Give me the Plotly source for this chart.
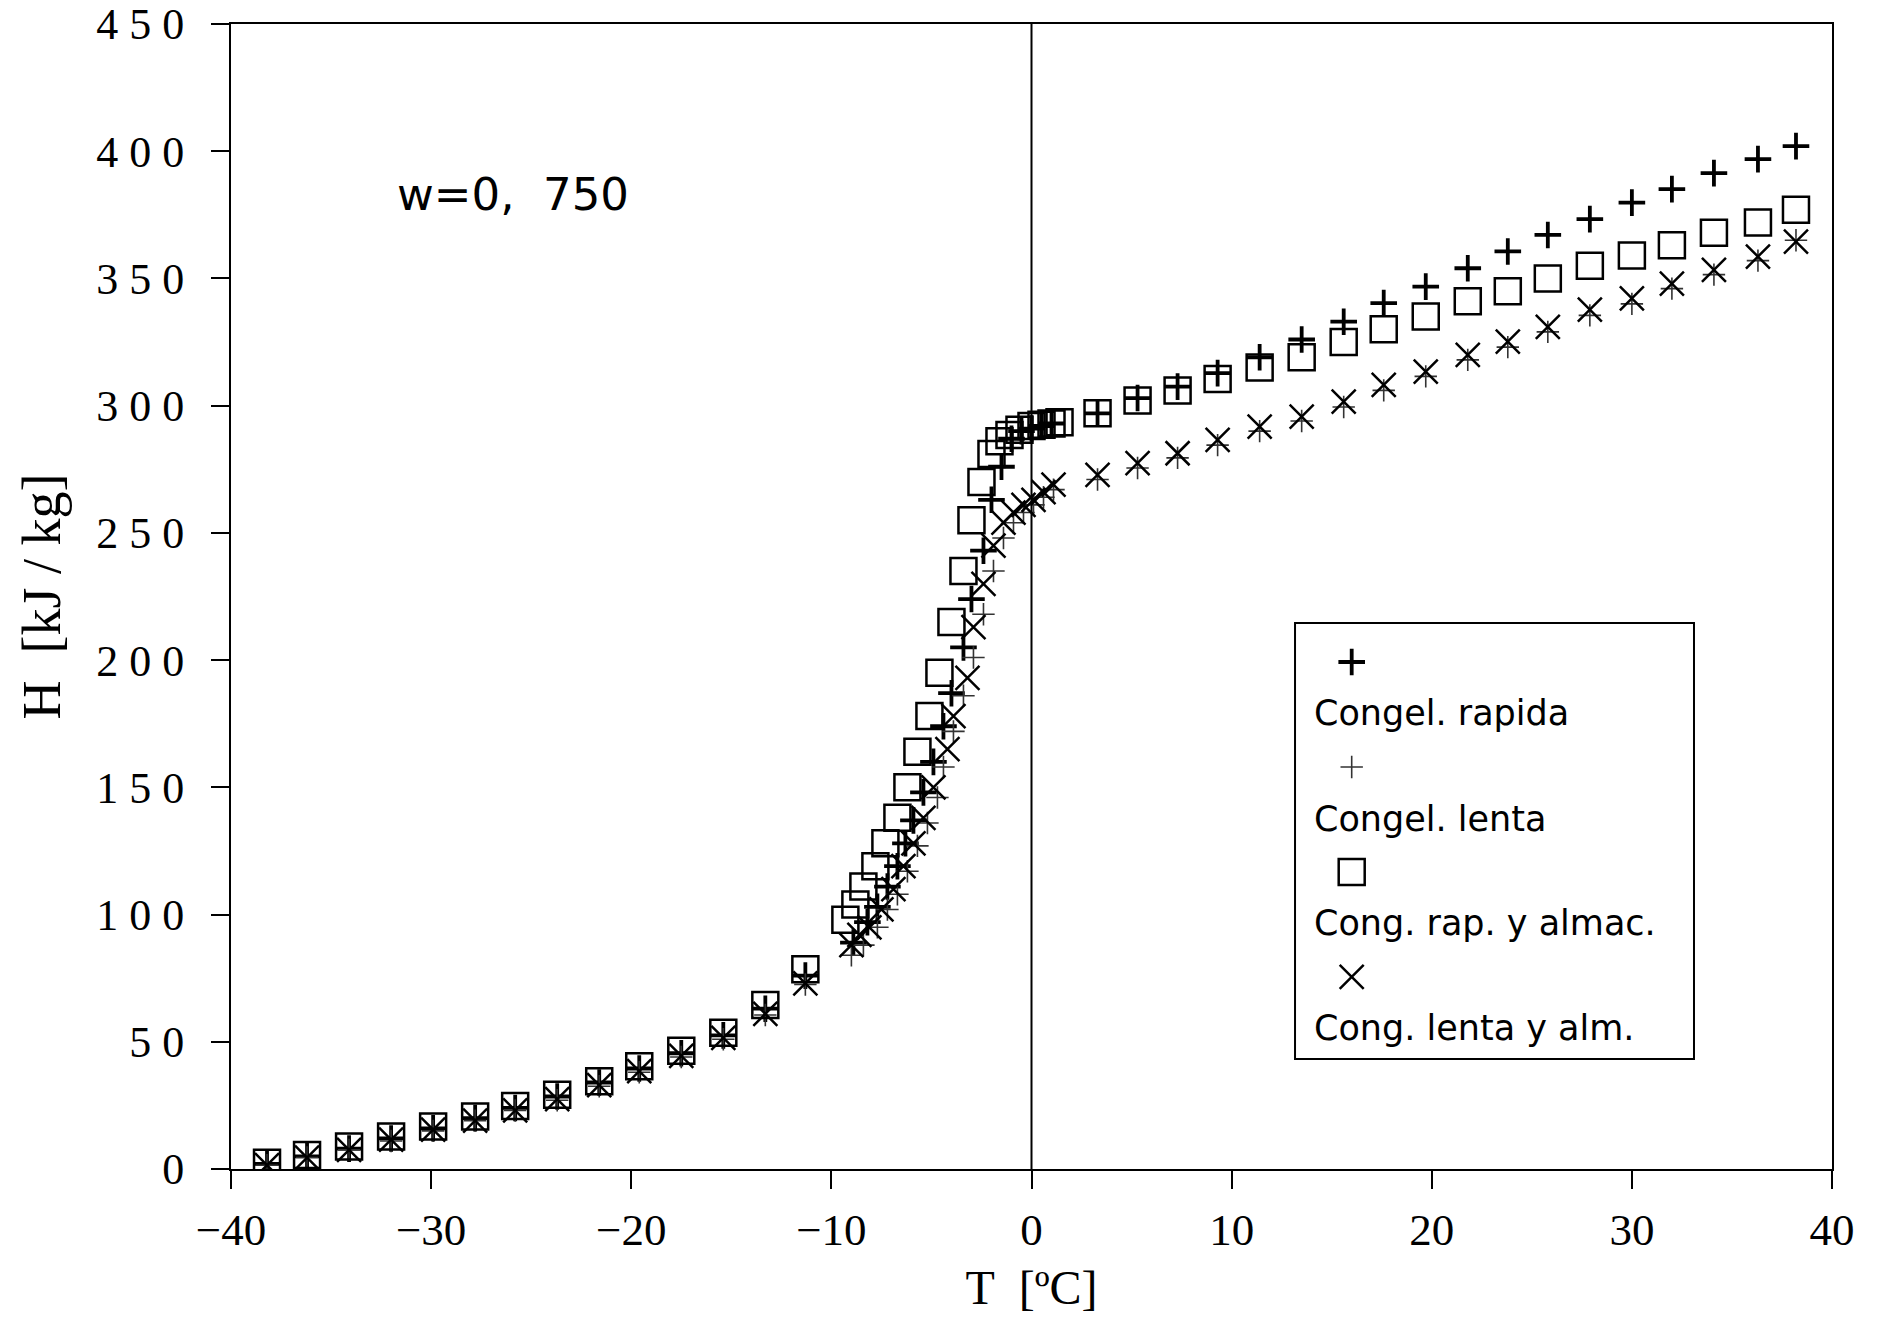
import plotly.graph_objects as go

# ---------------- data ----------------
# Congel. rapida  (+ bold)
T_rapida = [-38.2, -36.2, -34.1, -32.0, -29.9, -27.8, -25.8, -23.7, -21.6, -19.6, -17.5, -15.4, -13.3, -11.3,
            -8.9, -8.2, -7.7, -7.2, -6.7, -6.3, -5.9, -5.4, -4.9, -4.4, -4.0, -3.4, -3.0, -2.4, -2.0, -1.5,
            -1.0, -0.5, 0.0, 0.5, 1.0,
            3.3, 5.3, 7.3, 9.3, 11.4, 13.5, 15.6, 17.6, 19.7, 21.8, 23.8, 25.8, 27.9, 30.0, 32.0, 34.1, 36.3, 38.2]
H_rapida = [2.0, 5.0, 8.0, 12.0, 16.0, 20.0, 24.0, 28.5, 34.0, 39.5, 45.5, 52.5, 63.0, 76.0,
            89, 97, 103, 111, 119, 128, 137, 148, 160, 174, 187, 205, 224, 243, 263, 276,
            287, 290, 291, 292, 293,
            297, 303, 307.5, 312.8, 319, 326, 333, 340.3, 346.8, 354, 360.6, 367.1, 373.3, 379.8, 385.1, 391.4, 396.9, 402]

# Congel. lenta  (+ light)
T_lenta = [-38.2, -36.2, -34.1, -32.0, -29.9, -27.8, -25.8, -23.7, -21.6, -19.6, -17.5, -15.4, -13.3, -11.3,
           -9.0, -8.4, -7.7, -7.2, -6.7, -6.2, -5.7, -5.2, -4.7, -4.4, -3.9, -3.4, -2.9, -2.4, -1.9, -1.4,
           -0.9, -0.4, 0.1, 0.6, 1.1,
           3.3, 5.3, 7.3, 9.3, 11.4, 13.5, 15.6, 17.6, 19.7, 21.8, 23.8, 25.8, 27.9, 30.0, 32.0, 34.1, 36.3, 38.2]
H_lenta = [1.5, 4.5, 7.5, 11.0, 15.0, 19.0, 23.0, 27.0, 32.5, 38.0, 44.0, 51.0, 60.5, 72.5,
           84, 88, 95, 102, 108, 117, 127, 136, 146, 158, 172, 186, 201, 218, 235, 248,
           254, 258, 261, 264, 267,
           271, 275.5, 279.5, 284.5, 290, 294, 299.5, 306, 311.5, 318, 323, 329, 335.5, 340, 346, 351.5, 357, 365]

# Cong. rap. y almac.  (rectangles)
T_almac = [-38.2, -36.2, -34.1, -32.0, -29.9, -27.8, -25.8, -23.7, -21.6, -19.6, -17.5, -15.4, -13.3, -11.3,
           -9.3, -8.8, -8.4, -7.8, -7.3, -6.7, -6.2, -5.7, -5.1, -4.6, -4.0, -3.4, -3.0, -2.5, -2.0, -1.6,
           -1.1, -0.6, 0.0, 0.5, 1.0, 1.4,
           3.3, 5.3, 7.3, 9.3, 11.4, 13.5, 15.6, 17.6, 19.7, 21.8, 23.8, 25.8, 27.9, 30.0, 32.0, 34.1, 36.3, 38.2]
H_almac = [2.5, 5.5, 8.8, 12.8, 16.7, 20.6, 24.8, 29.2, 34.5, 40.4, 46.5, 53.5, 64.5, 78.5,
           98, 104, 111, 119, 128, 138, 150, 164, 178, 195, 215, 235, 255, 270, 281, 286,
           288.5, 290.5, 292, 292.5, 293, 293.5,
           297, 302, 306, 310.5, 315, 319, 325, 330, 335, 341, 345, 350, 355, 359, 363, 368, 372, 377]

# Cong. lenta y alm.  (x)
T_lalm = [-38.2, -36.2, -34.1, -32.0, -29.9, -27.8, -25.8, -23.7, -21.6, -19.6, -17.5, -15.4, -13.3, -11.3,
          -9.0, -8.6, -8.1, -7.5, -6.9, -6.4, -5.9, -5.4, -4.9, -4.2, -3.9, -3.2, -2.9, -2.4, -1.9, -1.4,
          -0.9, -0.4, 0.1, 0.6, 1.1,
          3.3, 5.3, 7.3, 9.3, 11.4, 13.5, 15.6, 17.6, 19.7, 21.8, 23.8, 25.8, 27.9, 30.0, 32.0, 34.1, 36.3, 38.2]
H_lalm = [1.5, 4.5, 7.5, 11.5, 15.5, 19.0, 23.0, 27.5, 33.0, 38.5, 44.5, 51.5, 61.0, 73.0,
          88, 92, 95, 102, 110, 119, 128, 138, 150, 165, 178, 193, 213, 230, 245, 254,
          258, 261, 263, 266, 269,
          272.8, 277.4, 281.3, 286.6, 291.8, 295.7, 301.6, 308.2, 313.4, 320, 325.2, 331, 337.7, 342.2, 348, 353.4, 358.6, 364.5]

series_names = ["Congel. rapida", "Congel. lenta", "Cong. rap. y almac.", "Cong. lenta y alm."]

NB = "\u00a0"
y_tickvals = [0, 50, 100, 150, 200, 250, 300, 350, 400, 450]
y_ticktext = [NB.join(str(v)) for v in y_tickvals]
x_tickvals = [-40, -30, -20, -10, 0, 10, 20, 30, 40]
x_ticktext = ["\u221240", "\u221230", "\u221220", "\u221210", "0", "10", "20", "30", "40"]

# ---------------- styles ----------------
styles = [
    dict(symbol="cross-thin-open", size=19, line=dict(width=3.8, color="black"), color="black"),
    dict(symbol="cross-thin-open", size=16, line=dict(width=1.6, color="#333333"), color="#333333"),
    dict(symbol="square-open", size=26, line=dict(width=2.5, color="black"), color="black"),
    dict(symbol="x-thin-open", size=24, line=dict(width=2.5, color="black"), color="black"),
]

fig = go.Figure()
data = [(T_rapida, H_rapida), (T_lenta, H_lenta), (T_almac, H_almac), (T_lalm, H_lalm)]
for (tx, hy), st, nm in zip(data, styles, series_names):
    fig.add_trace(go.Scatter(x=tx, y=hy, mode="markers", name=nm, marker=st,
                             showlegend=False, hoverinfo="x+y+name"))

# custom legend: symbols on an overlay axis in paper fractions, labels as annotations
leg_sym_x = 0.700
leg_sym_y = [0.4428, 0.3511, 0.2594, 0.1677]
leg_txt_y = [0.3983, 0.3057, 0.2148, 0.1231]
for st, ys in zip(styles, leg_sym_y):
    fig.add_trace(go.Scatter(x=[leg_sym_x], y=[ys], mode="markers", marker=st,
                             xaxis="x2", yaxis="y2", showlegend=False, hoverinfo="skip"))
for yt, nm in zip(leg_txt_y, series_names):
    fig.add_annotation(x=0.6752, y=yt, xref="paper", yref="paper", text=nm, showarrow=False,
                       xanchor="left", yanchor="middle",
                       font=dict(family="DejaVu Sans", size=35, color="black"))

# legend box
fig.add_shape(type="rect", xref="paper", yref="paper", x0=0.6646, x1=0.9138, y0=0.0961, y1=0.4769,
              line=dict(color="black", width=2))
# vertical line at T = 0
fig.add_shape(type="line", xref="x", yref="y", x0=0, x1=0, y0=0, y1=450,
              line=dict(color="black", width=2))

fig.add_annotation(x=0.1024, y=0.8507, xref="paper", yref="paper", text="w=0,\u00a0\u00a0750",
                   showarrow=False, xanchor="left", yanchor="middle",
                   font=dict(family="DejaVu Sans", size=45, color="black"))

axis_common = dict(showgrid=False, zeroline=False, showline=True, linecolor="black", linewidth=2,
                   mirror=True, ticks="outside", ticklen=18, tickwidth=2, tickcolor="black",
                   automargin=False)

fig.update_layout(
    width=1880, height=1319,
    margin=dict(l=231, r=48, t=24, b=150),
    paper_bgcolor="white", plot_bgcolor="white",
    xaxis=dict(range=[-40, 40], tickmode="array", tickvals=x_tickvals, ticktext=x_ticktext,
               tickfont=dict(family="Liberation Serif", size=45, color="black"),
               ticklabelstandoff=2,
               title=dict(text="T\u00a0\u00a0[\u00baC]", standoff=16,
                          font=dict(family="Liberation Serif", size=48, color="black")),
               **axis_common),
    yaxis=dict(range=[0, 450], tickmode="array", tickvals=y_tickvals, ticktext=y_ticktext,
               tickfont=dict(family="Liberation Serif", size=44, color="black"),
               ticklabelstandoff=18,
               title=dict(text="H\u00a0\u00a0[kJ\u00a0/\u00a0kg]", standoff=18,
                          font=dict(family="Liberation Serif", size=54, color="black")),
               **axis_common),
    xaxis2=dict(range=[0, 1], overlaying="x", visible=False, anchor="y2"),
    yaxis2=dict(range=[0, 1], overlaying="y", visible=False, anchor="x2"),
    showlegend=False,
)

fig.write_html("out.html")
